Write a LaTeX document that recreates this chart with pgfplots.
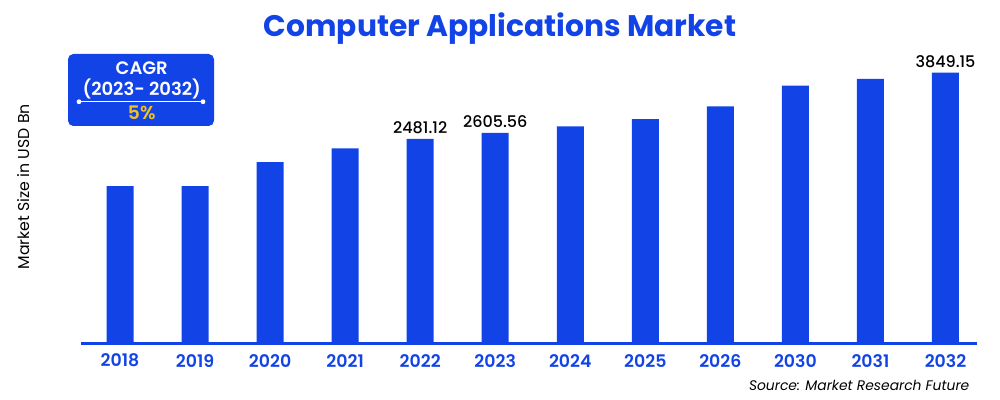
\documentclass[border=0pt]{standalone}
\usepackage{fontspec}
\setmainfont{Poppins}
\newfontfamily\pmed{Poppins Medium}
\newfontfamily\psemi{Poppins SemiBold}
\usepackage{pgfplots}
\usepackage{pgfplotstable}
\pgfplotsset{compat=1.18}
\definecolor{barblue}{HTML}{1243E6}
\definecolor{cagryellow}{HTML}{F5C21B}
% v = market size (USD Bn); bars are drawn from a baseline of -1734 as in the source chart
\pgfplotstableread{
x year v lab
0 2018 1511 {}
1 2019 1511 {}
2 2020 2006 {}
3 2021 2289 {}
4 2022 2481.12 2481.12
5 2023 2605.56 2605.56
6 2024 2743 {}
7 2025 2893 {}
8 2026 3155 {}
9 2030 3580 {}
10 2031 3719 {}
11 2032 3849.15 3849.15
}\data
\begin{document}
\begin{tikzpicture}
\useasboundingbox (0pt,0pt) rectangle (750pt,300pt);
\begin{axis}[
  at={(60.75pt,42.525pt)}, anchor=south west,
  scale only axis, width=672pt, height=219.975pt,
  xmin=-0.52, xmax=11.42, ymin=0, ymax=6051,
  axis x line*=bottom, axis y line=none,
  axis line style={draw=barblue, line width=2.2pt},
  xtick=data, xticklabels from table={\data}{year},
  major tick length=0pt, ytick=\empty,
  xticklabel style={font=\psemi\fontsize{13}{14}\selectfont, text=barblue, anchor=center, yshift=-13pt},
  clip=false,
]
\addplot[ybar, bar width=20.25pt, bar shift=0pt, fill=barblue, draw=none,
  nodes near coords, point meta=explicit symbolic,
  every node near coord/.append style={font=\pmed\fontsize{12}{14}\selectfont, text=black, inner sep=0pt, anchor=south, yshift=3.8pt}]
  table[x=x, y expr=\thisrow{v}+1734, meta=lab] {\data};
\end{axis}
% title
\node[anchor=base, font=\bfseries\fontsize{22.3}{26}\selectfont, text=barblue] at (375pt,272.25pt) {Computer Applications Market};
% y label
\node[rotate=90, font=\fontsize{11.8}{13}\selectfont] at (18pt,160pt) {Market Size in USD Bn};
% source
\node[anchor=east, font=\itshape\fontsize{10.4}{12}\selectfont] at (730.5pt,11.25pt) {Source: Market Research Future};
% CAGR box
\fill[barblue, rounded corners=4pt] (51pt,205.5pt) rectangle (160.5pt,259.5pt);
\node[text=white, font=\psemi\fontsize{13.5}{15}\selectfont] at (106.3pt,249pt) {CAGR};
\node[text=white, font=\psemi\fontsize{13.5}{15}\selectfont] at (106.3pt,233.25pt) {(2023- 2032)};
\draw[white, line width=0.8pt] (59.25pt,223.7pt) -- (152.25pt,223.7pt);
\fill[white] (59.25pt,223.7pt) circle (1.8pt) (152.25pt,223.7pt) circle (1.8pt);
\node[text=cagryellow, font=\psemi\fontsize{14}{15}\selectfont] at (106.3pt,215.25pt) {5\%};
\end{tikzpicture}
\end{document}
